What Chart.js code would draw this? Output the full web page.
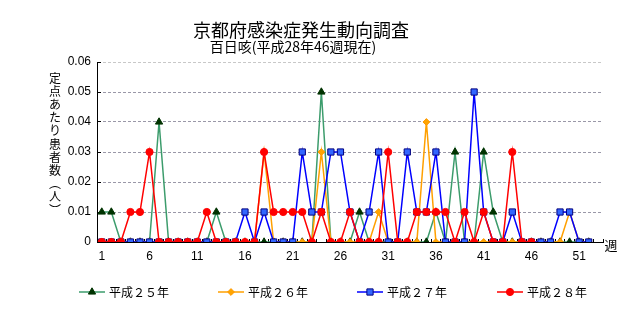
<!DOCTYPE html>
<html><head><meta charset="utf-8">
<script src="https://cdn.jsdelivr.net/npm/chart.js@4/dist/chart.umd.min.js"></script>
<style>html,body{margin:0;padding:0;background:#fff;}canvas{display:block;}</style>
</head><body>
<canvas id="c" width="644" height="310"></canvas>
<script>
// ---- data ----
const weeks = ['1','2','3','4','5','6','7','8','9','10','11','12','13','14','15','16','17','18','19','20',
  '21','22','23','24','25','26','27','28','29','30','31','32','33','34','35','36','37','38','39','40',
  '41','42','43','44','45','46','47','48','49','50','51','52','53'];
const seriesNames = ['平成２５年','平成２６年','平成２７年','平成２８年'];
const h25 = [0.01,0.01,0,0,0,0,0.04,0,0,0, 0,0,0.01,0,0,0,0,0,0,0, 0,0,0,0.05,0,0,0,0.01,0,0,
  0,0,0,0,0,0.01,0,0.03,0,0, 0.03,0.01,0,0,0,0,0,0,0,0, 0,0];
const h26 = [0,0,0,0,0,0,0,0,0,0, 0,0,0,0,0,0,0,0.03,0,0, 0,0,0,0.03,0,0,0,0,0,0.01,
  0,0,0,0,0.04,0,0,0,0,0, 0,0,0,0,0,0,0,0,0,0.01, 0,0];
const h27 = [0,0,0,0,0,0,0,0,0,0, 0,0,0,0,0,0.01,0,0.01,0,0, 0,0.03,0.01,0.01,0.03,0.03,0.01,0,0.01,0.03,
  0,0,0.03,0.01,0.01,0.03,0,0,0,0.05, 0.01,0,0,0.01,0,0,0,0,0.01,0.01, 0,0];
const h28 = [0,0,0,0.01,0.01,0.03,0,0,0,0, 0,0.01,0,0,0,0,0,0.03,0.01,0.01, 0.01,0.01,0,0.01,0,0,0.01,0,0,0,
  0.03,0,0,0.01,0.01,0.01,0.01,0,0.01,0, 0.01,0,0,0.03,0,0];
const yMin = 0, yMax = 0.06, yStep = 0.01;
const titleText = '京都府感染症発生動向調査';
const subtitleText = '百日咳(平成28年46週現在)';
const yTitleChars = ['定','点','あ','た','り','患','者','数','︵','人','︶'];
const xUnit = '週';

const JP = '"Noto Sans CJK JP", sans-serif';
const styles = [
  {line:'#3c9c6c', fill:'#003300', border:'#003300', ps:'triangle', r:4.2, order:4},
  {line:'#ffa000', fill:'#ffa500', border:'#ff9900', ps:'rectRot', r:3.4, order:3},
  {line:'#0000ff', fill:'#3366ff', border:'#000080', ps:'rect', r:4.4, order:2},
  {line:'#ff0000', fill:'#ff0000', border:'#ff0000', ps:'circle', r:3.6, order:1}
];
const allData = [h25,h26,h27,h28];
const datasets = allData.map((d,i)=>({
  label: seriesNames[i], data: d, order: styles[i].order,
  borderColor: styles[i].line, borderWidth: 1.5,
  backgroundColor: styles[i].fill,
  pointStyle: styles[i].ps, pointRadius: styles[i].r,
  pointBackgroundColor: styles[i].fill, pointBorderColor: styles[i].border,
  pointBorderWidth: 1, tension: 0, fill: false
}));

const overlay = {
  id: 'overlay',
  afterDraw(chart){
    const ctx = chart.ctx;
    ctx.save();
    ctx.fillStyle = '#000';
    ctx.textAlign = 'center'; ctx.textBaseline = 'middle';
    ctx.font = '18px ' + JP;
    ctx.fillText(titleText, 301, 30);
    ctx.font = '14px ' + JP;
    ctx.fillText(subtitleText, 293, 47);
    ctx.font = '12px ' + JP;
    yTitleChars.forEach((c,i)=>ctx.fillText(c, 55, 78 + i*13.2));
    ctx.font = '13px ' + JP;
    ctx.fillText(xUnit, 611, 245);
    // legend
    const lx = [79, 218, 357, 497], ly = 292;
    chart.data.datasets.forEach((ds,i)=>{
      const s = styles[i];
      ctx.strokeStyle = s.line; ctx.lineWidth = 1.5;
      ctx.beginPath(); ctx.moveTo(lx[i], ly); ctx.lineTo(lx[i]+26, ly); ctx.stroke();
      ctx.fillStyle = s.fill; ctx.strokeStyle = s.border; ctx.lineWidth = 1;
      Chart.helpers.drawPoint(ctx, {pointStyle: s.ps, radius: s.r, rotation: 0, borderWidth: 1}, lx[i]+13, ly);
      ctx.fillStyle = '#000'; ctx.textAlign = 'left';
      ctx.font = '12px ' + JP;
      ctx.fillText(ds.label, lx[i]+30, ly);
    });
    ctx.restore();
  }
};

new Chart(document.getElementById('c'), {
  type: 'line',
  data: { labels: weeks, datasets },
  options: {
    responsive: false, animation: false,
    layout: { padding: { top: 62, right: 41, left: 0, bottom: 0 } },
    plugins: { legend: { display: false }, title: { display: false }, tooltip: { enabled: false } },
    scales: {
      x: {
        type: 'category', offset: true,
        afterFit: s => { s.height = 68; },
        grid: { display: true, offset: true, drawOnChartArea: false, drawTicks: true, tickLength: -3, color: '#000', tickColor: '#000' },
        border: { display: true, color: '#000', width: 1 },
        ticks: { autoSkip: false, maxRotation: 0, minRotation: 0, padding: 10, color: '#000',
          font: { family: '"Liberation Sans", Arial, sans-serif', size: 12 },
          callback: function(v, i){ return i % 5 === 0 ? this.getLabelForValue(v) : ''; } }
      },
      y: {
        min: yMin, max: yMax,
        afterFit: s => { s.width = 97; },
        grid: { drawTicks: true, tickLength: -4, tickColor: '#000',
          color: ctx => (ctx.tick && Math.abs(ctx.tick.value - yMax) < 1e-9) ? '#c8c8c8' : '#9a98a8' },
        border: { display: true, color: '#000', width: 1, dash: [3, 2] },
        ticks: { stepSize: yStep, padding: 10, color: '#000',
          font: { family: '"Liberation Sans", Arial, sans-serif', size: 12 },
          callback: v => (Math.abs(v) < 1e-9 ? '0' : v.toFixed(2)) }
      }
    }
  },
  plugins: [overlay]
});
</script>
</body></html>
